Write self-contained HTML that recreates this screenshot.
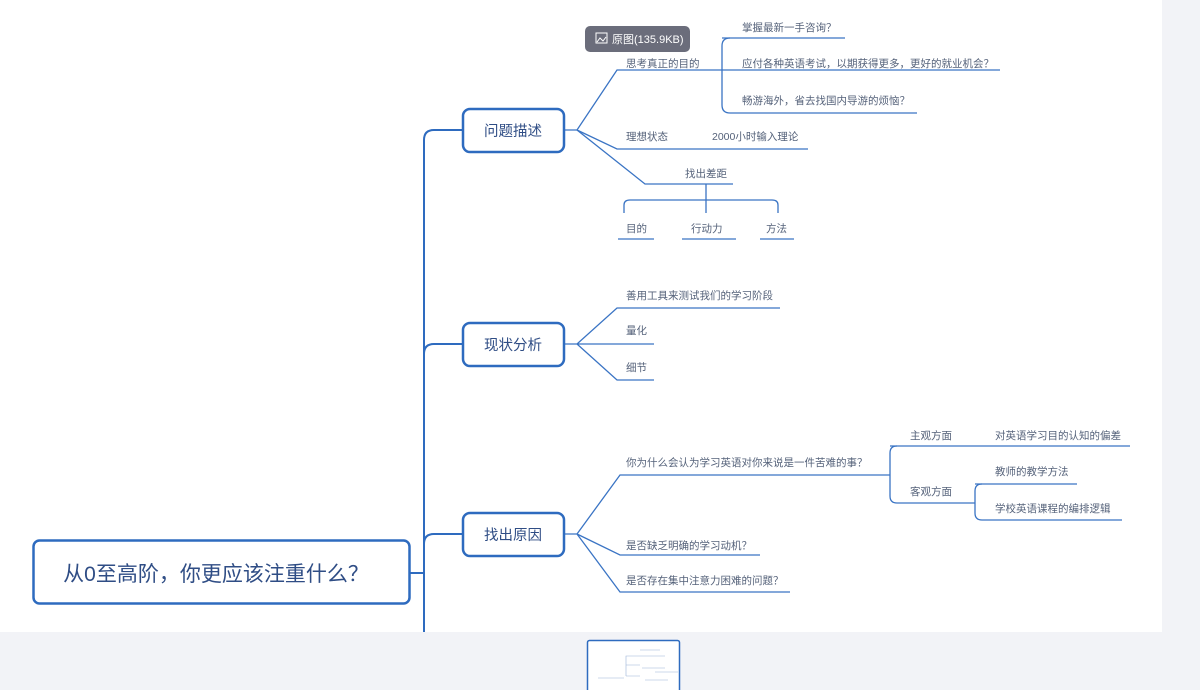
<!DOCTYPE html>
<html><head><meta charset="utf-8"><style>
html,body{margin:0;padding:0;width:1200px;height:690px;overflow:hidden;background:#f2f3f7;font-family:"Liberation Sans","Noto Sans CJK SC",sans-serif}
svg{position:absolute;left:0;top:0}
text{font-family:"Liberation Sans","Noto Sans CJK SC",sans-serif}
.t{font-size:10.5px;fill:#55627a}
</style></head><body>
<svg width="1200" height="690" viewBox="0 0 1200 690">
<rect x="0" y="0" width="1162" height="632" fill="#fff"/>
<g fill="none" stroke="#2e6bbf" stroke-width="2">
<path d="M410 573 H424"/>
<path d="M424 632 V140 Q424 130 434 130 H463"/>
<path d="M424 354 Q424 344 434 344 H463"/>
<path d="M424 544 Q424 534 434 534 H463"/>
</g>
<g fill="none" stroke="#3a74c4" stroke-width="1.3">
<path d="M564 130 H577 L617 70 H1000"/>
<path d="M730 38 Q722 38 722 46 V105 Q722 113 730 113 H917"/>
<path d="M722 38 H845"/>
<path d="M577 130 L617 149 H808"/>
<path d="M577 130 L645 184 H733"/>
<path d="M706 184 V213"/>
<path d="M624 213 V205 Q624 200 630 200 H772 Q778 200 778 205 V213"/>
<path d="M618 239 H654 M682 239 H736 M760 239 H794"/>
<path d="M564 344 H577 L617 308 H780 M577 344 H654 M577 344 L617 380 H654"/>
<path d="M564 534 H577 L620 475 H890 M577 534 L620 555 H760 M577 534 L620 592 H790"/>
<path d="M897 446 Q890 446 890 453 V496 Q890 503 897 503 H975"/>
<path d="M890 446 H1130"/>
<path d="M982 484 Q975 484 975 491 V513 Q975 520 982 520 H1122"/>
<path d="M975 484 H1077"/>
</g>
<g fill="#fff" stroke="#2e6bbf" stroke-width="2.5">
<rect x="33.5" y="540.5" width="376" height="63" rx="6"/>
<rect x="463" y="109" width="101" height="43" rx="7"/>
<rect x="463" y="323" width="101" height="43" rx="7"/>
<rect x="463" y="513" width="101" height="43" rx="7"/>
</g>
<text x="216" y="581" font-size="21" fill="#2f4d85" text-anchor="middle">从0至高阶，你更应该注重什么？</text>
<g font-size="14.5" fill="#2f4d85" text-anchor="middle">
<text x="513" y="136">问题描述</text>
<text x="513" y="350">现状分析</text>
<text x="513" y="540">找出原因</text>
</g>
<g class="t">
<text x="626" y="67">思考真正的目的</text>
<text x="742" y="31">掌握最新一手咨询？</text>
<text x="742" y="67">应付各种英语考试，以期获得更多，更好的就业机会？</text>
<text x="742" y="104">畅游海外，省去找国内导游的烦恼？</text>
<text x="626" y="140">理想状态</text>
<text x="712" y="140">2000小时输入理论</text>
<text x="685" y="177">找出差距</text>
<text x="626" y="232">目的</text>
<text x="691" y="232">行动力</text>
<text x="766" y="232">方法</text>
<text x="626" y="299">善用工具来测试我们的学习阶段</text>
<text x="626" y="334">量化</text>
<text x="626" y="371">细节</text>
<text x="626" y="466">你为什么会认为学习英语对你来说是一件苦难的事？</text>
<text x="626" y="549">是否缺乏明确的学习动机？</text>
<text x="626" y="584">是否存在集中注意力困难的问题？</text>
<text x="910" y="439">主观方面</text>
<text x="995" y="439">对英语学习目的认知的偏差</text>
<text x="910" y="495">客观方面</text>
<text x="995" y="475">教师的教学方法</text>
<text x="995" y="512">学校英语课程的编排逻辑</text>
</g>
<rect x="585" y="26" width="105" height="26" rx="5" fill="#6b6d7b"/>
<rect x="596" y="33" width="11" height="10" fill="none" stroke="#fff" stroke-width="1"/>
<path d="M597 42 L600 38 L603 41 L606 37" fill="none" stroke="#fff" stroke-width="1"/>
<text x="612" y="43" font-size="11" fill="#fff">原图(135.9KB)</text>
<rect x="587.5" y="640.5" width="92" height="52" fill="#fff" stroke="#2e6bbf" stroke-width="1.5" rx="2"/>
<g stroke="#9bb3d8" stroke-width="0.6" fill="none">
<path d="M598 678 H624 M626 676 V656 H640 M626 665 H640 M626 676 H640 M640 650 H660 M640 656 H665 M642 668 H665 M655 672 H678 M645 680 H668"/>
</g>
</svg>
</body></html>
